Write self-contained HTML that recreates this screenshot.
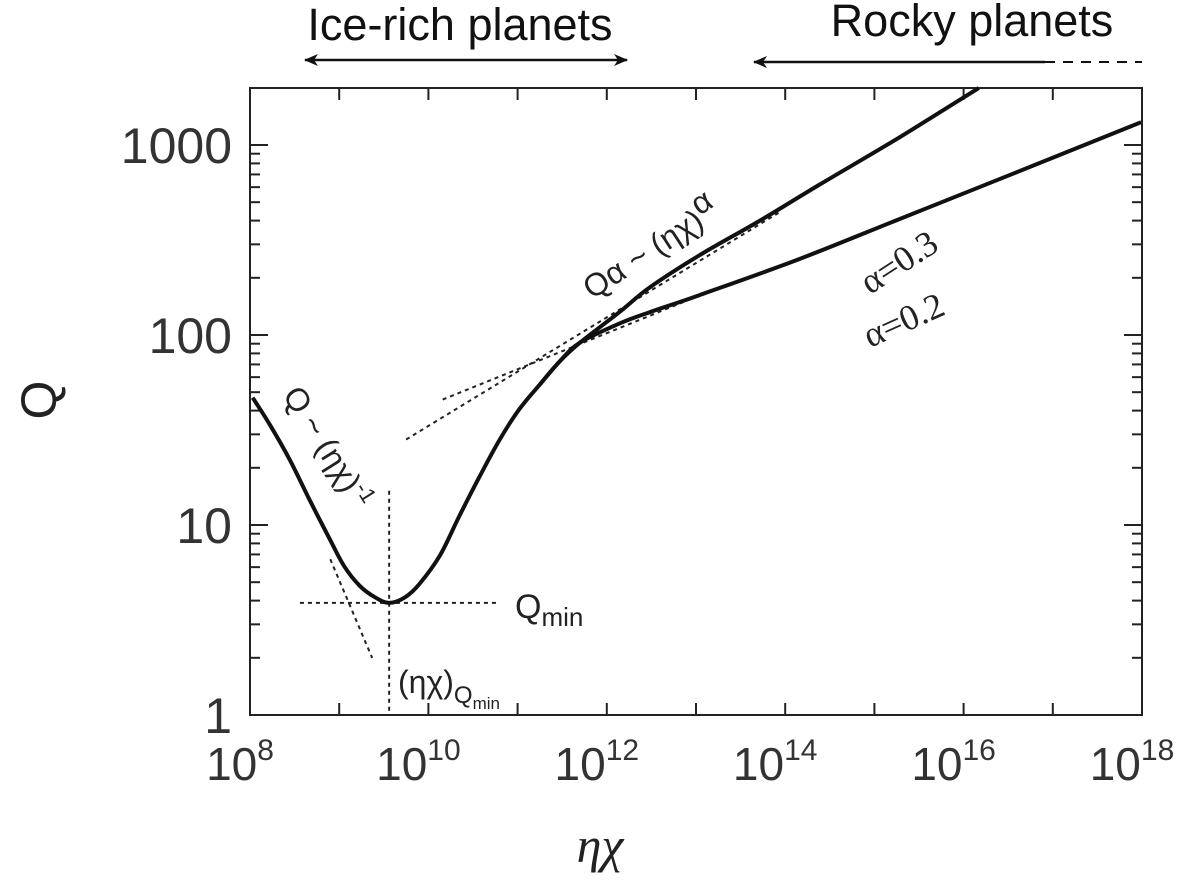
<!DOCTYPE html>
<html><head><meta charset="utf-8"><style>
html,body{margin:0;padding:0;background:#fff;}
svg{display:block;font-family:"Liberation Sans",sans-serif;}
</style></head><body>
<svg id="c" width="1200" height="884" viewBox="0 0 1200 884">
<defs><marker id="ah" markerWidth="14" markerHeight="12" refX="13" refY="6" orient="auto" markerUnits="userSpaceOnUse"><path d="M0,0 L14,6 L0,12 L4,6 Z" fill="#111"/></marker></defs>
<g id="plot"></g>
<text x="460" y="40" font-size="45" text-anchor="middle" fill="#111">Ice-rich planets</text>
<line x1="460" y1="60" x2="305" y2="60" stroke="#111" stroke-width="2.5" marker-end="url(#ah)"/>
<line x1="460" y1="60" x2="627" y2="60" stroke="#111" stroke-width="2.5" marker-end="url(#ah)"/>
<text x="972" y="36" font-size="45" text-anchor="middle" fill="#111">Rocky planets</text>
<line x1="1045" y1="62" x2="754" y2="62" stroke="#111" stroke-width="2.5" marker-end="url(#ah)"/>
<line x1="1045" y1="62" x2="1142" y2="62" stroke="#111" stroke-width="2" stroke-dasharray="10,8"/>
<text x="600" y="862" font-size="50" font-style="italic" text-anchor="middle" fill="#222" font-family="Liberation Serif,serif">ηχ</text>
<text transform="translate(56,400) rotate(-90)" font-size="50" text-anchor="middle" fill="#222">Q</text>
</svg>
<script>
const xMajor=[8,10,12,14,16,18];
const yMajor=[0,1,2,3];
const yTickLabels=["1","10","100","1000"];
// log10(eta chi), log10(Q)
const mainLX=[8.03,8.22,8.45,8.67,8.90,9.06,9.23,9.40,9.56,9.74,9.90,10.13,10.35,10.58,10.80,11.02,11.25,11.47,11.70];
const mainLQ=[1.67,1.53,1.34,1.13,0.92,0.78,0.68,0.62,0.59,0.62,0.69,0.84,1.05,1.26,1.45,1.61,1.74,1.86,1.96];
const a3LX=[11.70,12.14,12.48,13.04,13.71,14.38,15.28,16.17];
const a3LQ=[1.96,2.12,2.25,2.42,2.60,2.79,3.04,3.30];
const a2LX=[11.70,12.14,12.48,13.04,14.16,15.28,16.40,17.99];
const a2LQ=[1.96,2.06,2.12,2.21,2.40,2.61,2.82,3.12];
const X0=250,X1=1142,Y0=715,Y1=88;
const sx=l=>X0+(l-8)*(X1-X0)/10;
const sy=l=>Y0-l*190;
const NS="http://www.w3.org/2000/svg";
const g=document.getElementById('plot');
function mk(t,a){const e=document.createElementNS(NS,t);for(const k in a)e.setAttribute(k,a[k]);g.appendChild(e);return e;}
let fr=mk('rect',{x:X0,y:Y1,width:X1-X0,height:Y0-Y1,fill:'none',stroke:'#222','stroke-width':2});


for(let d=8;d<=18;d++){
 const x=sx(d);
 let t=mk('line',{x1:x,y1:Y0,x2:x,y2:Y0-12,stroke:'#222','stroke-width':2});
 
 
 let t2=mk('line',{x1:x,y1:Y1,x2:x,y2:Y1+12,stroke:'#222','stroke-width':2});
 
 
}
xMajor.forEach(d=>{
 const e=mk('text',{x:sx(d)-10,y:780,'font-size':46,'text-anchor':'middle',fill:'#333'});
 e.innerHTML='10<tspan dy="-20" font-size="30">'+d+'</tspan>';
 
 
});
yMajor.forEach((d,i)=>{
 const e=mk('text',{x:232,y:sy(d)+18,'font-size':50,'text-anchor':'end',fill:'#333'});
 e.textContent=yTickLabels[i];
 
 
});
for(let d=0;d<=3;d++){for(let m=1;m<=9;m++){
 const l=d+Math.log10(m); if(sy(l)<Y1)continue;
 const len=m===1?18:10;
 let a=mk('line',{x1:X0,y1:sy(l),x2:X0+len,y2:sy(l),stroke:'#222','stroke-width':2});
 
 
 let b=mk('line',{x1:X1,y1:sy(l),x2:X1-len,y2:sy(l),stroke:'#222','stroke-width':2});
 
 
}}
function path(lx,lq){
 const P=lx.map((v,i)=>[sx(v),sy(lq[i])]);
 let d='M'+P[0][0].toFixed(1)+','+P[0][1].toFixed(1);
 for(let i=0;i<P.length-1;i++){
  const p0=P[i-1]||P[i],p1=P[i],p2=P[i+1],p3=P[i+2]||P[i+1];
  const c1=[p1[0]+(p2[0]-p0[0])/6,p1[1]+(p2[1]-p0[1])/6];
  const c2=[p2[0]-(p3[0]-p1[0])/6,p2[1]-(p3[1]-p1[1])/6];
  d+=` C${c1[0].toFixed(1)},${c1[1].toFixed(1)} ${c2[0].toFixed(1)},${c2[1].toFixed(1)} ${p2[0].toFixed(1)},${p2[1].toFixed(1)}`;
 }
 return d;}
function dline(x1,q1,x2,q2,name){const e=mk('line',{x1:sx(x1),y1:sy(q1),x2:sx(x2),y2:sy(q2),stroke:'#222','stroke-width':2,'stroke-dasharray':'4,4'});
 
 }
dline(9.56,1.18,9.56,0,'qmin-vertical');
dline(8.56,0.59,10.78,0.59,'qmin-horizontal');
dline(8.90,0.82,9.37,0.30,'slope-minus-one-asymptote');
dline(9.75,1.45,13.95,2.65,'alpha-03-asymptote');
dline(10.16,1.66,13.0,2.2,'alpha-02-asymptote');
let p1=mk('path',{d:path(mainLX.concat(a3LX.slice(1)),mainLQ.concat(a3LQ.slice(1))),fill:'none',stroke:'#111','stroke-width':4,'stroke-linejoin':'round'});


let p3=mk('path',{d:path(mainLX.slice(-3).concat(a2LX.slice(1)),mainLQ.slice(-3).concat(a2LQ.slice(1))),fill:'none',stroke:'#111','stroke-width':4});


function lab(x,y,rot,html,size,name,fam){const e=mk('text',{transform:`translate(${x},${y}) rotate(${rot})`,'font-size':size,fill:'#222'});
 if(fam)e.setAttribute('font-family',fam);
 e.innerHTML=html;
 
 }
lab(515,618,0,'Q<tspan dy="8" font-size="26">min</tspan>',34,'qmin-label');
lab(398,693,0,'(ηχ)<tspan dy="10" font-size="24">Q</tspan><tspan dy="6" font-size="17">min</tspan>',32,'eta-chi-qmin-label');
lab(282,395,58,'Q ~ (ηχ)<tspan dy="-12" font-size="22">-1</tspan>',32,'minus-one-law-label');
lab(592,300,-33,'Qα ~ (ηχ)<tspan dy="-12">α</tspan>',32,'alpha-law-label');
lab(870,295,-33,'α=0.3',36,'alpha-03-label','Liberation Serif,serif');
lab(870,348,-24,'α=0.2',36,'alpha-02-label','Liberation Serif,serif');
</script>
</body></html>
